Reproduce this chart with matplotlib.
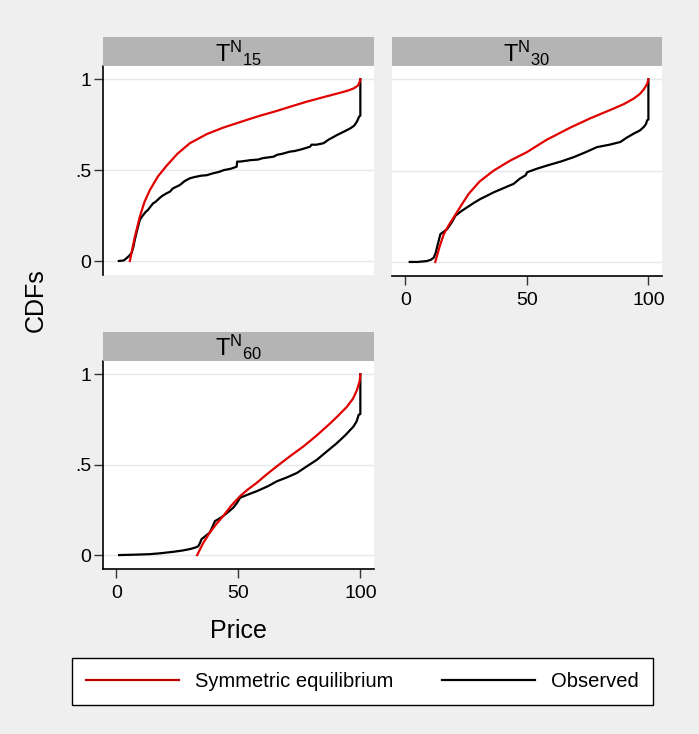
import numpy as np
import matplotlib.pyplot as plt
from matplotlib.lines import Line2D

plt.rcParams['font.family'] = ['Liberation Sans', 'DejaVu Sans']
plt.rcParams['mathtext.fontset'] = 'custom'
plt.rcParams['mathtext.rm'] = 'Liberation Sans'

# panel titles
titles = [r'$\mathregular{T^{N}{}_{15}}$', r'$\mathregular{T^{N}{}_{30}}$',
          r'$\mathregular{T^{N}{}_{60}}$']

# symmetric equilibrium CDFs (price, cdf)
eq15_x = [5.5, 7.5, 9.6, 11.5, 13.7, 17, 20.5, 25, 30.1, 37, 43.8, 52, 58, 65.8, 72, 78.1, 85, 91.8, 95, 97.3, 99, 99.7, 100]
eq15_y = [0.0, 0.13, 0.244, 0.325, 0.39, 0.465, 0.523, 0.59, 0.648, 0.698, 0.734, 0.77, 0.796, 0.826, 0.852, 0.877, 0.902, 0.926, 0.938, 0.95, 0.965, 0.985, 1.0]
eq30_x = [12.3, 14, 15.8, 17.8, 19.9, 23, 26, 30.5, 36.3, 43, 50.1, 58, 67.9, 76, 85.7, 90, 94, 96.5, 98.1, 99.5, 100]
eq30_y = [0.0, 0.08, 0.152, 0.2, 0.244, 0.31, 0.372, 0.44, 0.5, 0.554, 0.602, 0.668, 0.736, 0.786, 0.84, 0.865, 0.895, 0.92, 0.945, 0.975, 1.0]
eq60_x = [33.1, 35.5, 38.3, 41, 43.8, 47, 50.7, 54, 57.5, 61.5, 65.8, 71, 76.7, 82, 87.7, 91, 94.5, 97, 98.6, 99.7, 100]
eq60_y = [0.0, 0.065, 0.125, 0.172, 0.216, 0.272, 0.326, 0.364, 0.399, 0.445, 0.491, 0.545, 0.601, 0.66, 0.729, 0.772, 0.82, 0.865, 0.912, 0.96, 1.0]

# observed empirical CDFs
ob15_x = [1, 3, 4.1, 5.2, 6.2, 7, 7.5, 8.5, 9.6, 10.5, 12, 13, 15, 16, 18, 19, 20.5, 22, 23, 24, 26, 28, 30.1, 32, 35, 37, 39.7, 42, 44, 47, 49.3, 49.5, 50.7, 55, 58, 60, 64.4, 66, 68, 71.2, 73, 76, 79.4, 80, 82, 84.9, 87, 88, 90.4, 93, 95.9, 97.5, 98.6, 99.5, 100, 100]
ob15_y = [0.0, 0.003, 0.015, 0.028, 0.044, 0.08, 0.115, 0.17, 0.226, 0.245, 0.27, 0.282, 0.317, 0.325, 0.35, 0.36, 0.372, 0.382, 0.398, 0.405, 0.418, 0.44, 0.455, 0.462, 0.47, 0.472, 0.483, 0.49, 0.5, 0.508, 0.519, 0.547, 0.547, 0.555, 0.558, 0.566, 0.574, 0.585, 0.59, 0.602, 0.605, 0.615, 0.629, 0.64, 0.64, 0.648, 0.668, 0.675, 0.693, 0.71, 0.73, 0.745, 0.767, 0.794, 0.8, 1.0]
ob30_x = [1.8, 5, 8.9, 10.5, 11.7, 12.5, 13, 13.7, 14.4, 16, 17.2, 19, 20.6, 23, 25.4, 28, 30.9, 33.5, 36.3, 40, 44.6, 47, 49.5, 50.1, 54, 58.3, 64, 69.3, 74, 78.9, 84, 88.5, 91, 94, 96.5, 98.1, 99, 99.5, 100, 100]
ob30_y = [0.0, 0.0, 0.005, 0.012, 0.024, 0.05, 0.079, 0.115, 0.152, 0.168, 0.18, 0.215, 0.253, 0.278, 0.299, 0.322, 0.345, 0.362, 0.381, 0.402, 0.428, 0.455, 0.475, 0.491, 0.51, 0.528, 0.55, 0.574, 0.6, 0.629, 0.642, 0.657, 0.68, 0.703, 0.72, 0.739, 0.755, 0.776, 0.78, 1.0]
ob60_x = [1.1, 7, 13.7, 18, 23.3, 27, 30.1, 32, 33.5, 34.2, 34.9, 36.5, 38.3, 39.5, 40.4, 42, 43.8, 46, 47.9, 49.5, 50.7, 54, 57.5, 62, 65.8, 70, 74, 78, 82.2, 86, 90.4, 94, 97.2, 98.5, 99.3, 100, 100]
ob60_y = [0.0, 0.002, 0.005, 0.01, 0.018, 0.025, 0.033, 0.04, 0.048, 0.065, 0.088, 0.105, 0.125, 0.16, 0.188, 0.2, 0.216, 0.24, 0.262, 0.29, 0.317, 0.335, 0.353, 0.38, 0.408, 0.43, 0.454, 0.49, 0.527, 0.57, 0.619, 0.665, 0.711, 0.74, 0.775, 0.78, 1.0]

eq_x = [eq15_x, eq30_x, eq60_x]
eq_y = [eq15_y, eq30_y, eq60_y]
ob_x = [ob15_x, ob30_x, ob60_x]
ob_y = [ob15_y, ob30_y, ob60_y]

bg = '#efefef'
fig = plt.figure(figsize=(6.99, 7.34), dpi=100)
fig.patch.set_facecolor(bg)

W, H = 699., 734.
# (left, right, top, bottom) in pixels
boxes = [(103, 374, 66, 275), (392, 662, 66, 276), (103, 374, 361, 569)]
strip_h = 29

for i, (l, r, t, b) in enumerate(boxes):
    ax = fig.add_axes([l / W, 1 - b / H, (r - l) / W, (b - t) / H])
    ax.set_facecolor('white')
    ax.plot(ob_x[i], ob_y[i], color='black', lw=1.6, zorder=3)
    ax.plot(eq_x[i], eq_y[i], color='#e00000', lw=1.6, zorder=4)
    ax.set_xlim(-5.5, 105.6)
    ax.set_ylim(-0.077, 1.073)
    ax.set_yticks([0, 0.5, 1])
    ax.set_yticklabels(['0', '.5', '1'])
    ax.set_xticks([0, 50, 100])
    ax.set_xticklabels(['0', '50', '100'])
    ax.grid(axis='y', color='#e2e9ef', lw=1)
    ax.set_axisbelow(True)
    ax.tick_params(labelsize=14, length=6.5, width=1, color='#333333', pad=2)
    ax.tick_params(axis='x', pad=5)
    for s in ['top', 'right']:
        ax.spines[s].set_visible(False)
    for s in ['left', 'bottom']:
        ax.spines[s].set_linewidth(1.2)
    if i == 0:
        ax.spines['bottom'].set_visible(False)
        ax.tick_params(axis='x', bottom=False, labelbottom=False)
    if i == 1:
        ax.spines['left'].set_visible(False)
        ax.tick_params(axis='y', left=False, labelleft=False)

    # grey title strip
    sax = fig.add_axes([l / W, 1 - t / H, (r - l) / W, strip_h / H])
    sax.set_facecolor('#b4b4b4')
    sax.set_xticks([])
    sax.set_yticks([])
    for s in sax.spines.values():
        s.set_visible(False)
    sax.text(0.5, 0.45, titles[i], ha='center', va='center', fontsize=17,
             transform=sax.transAxes)

fig.text(238 / W, 1 - 631 / H, 'Price', ha='center', va='center', fontsize=18)
fig.text(36 / W, 1 - 300 / H, 'CDFs', ha='center', va='center', fontsize=18,
         rotation=90)

handles = [Line2D([], [], color='#c00000', lw=1.6),
           Line2D([], [], color='black', lw=1.6)]
leg = fig.legend(handles, ['Symmetric equilibrium', 'Observed'], ncol=2,
                 loc='lower left', mode='expand',
                 bbox_to_anchor=(72 / W, 1 - 705 / H, 581 / W, 48 / H),
                 fontsize=14.5, frameon=True, fancybox=False, framealpha=1,
                 handlelength=4.6, handletextpad=0.8, borderaxespad=0,
                 borderpad=0.7, columnspacing=3)
leg.get_frame().set_edgecolor('black')
leg.get_frame().set_linewidth(1.0)

fig.savefig('out.png', dpi=100, facecolor=bg)
